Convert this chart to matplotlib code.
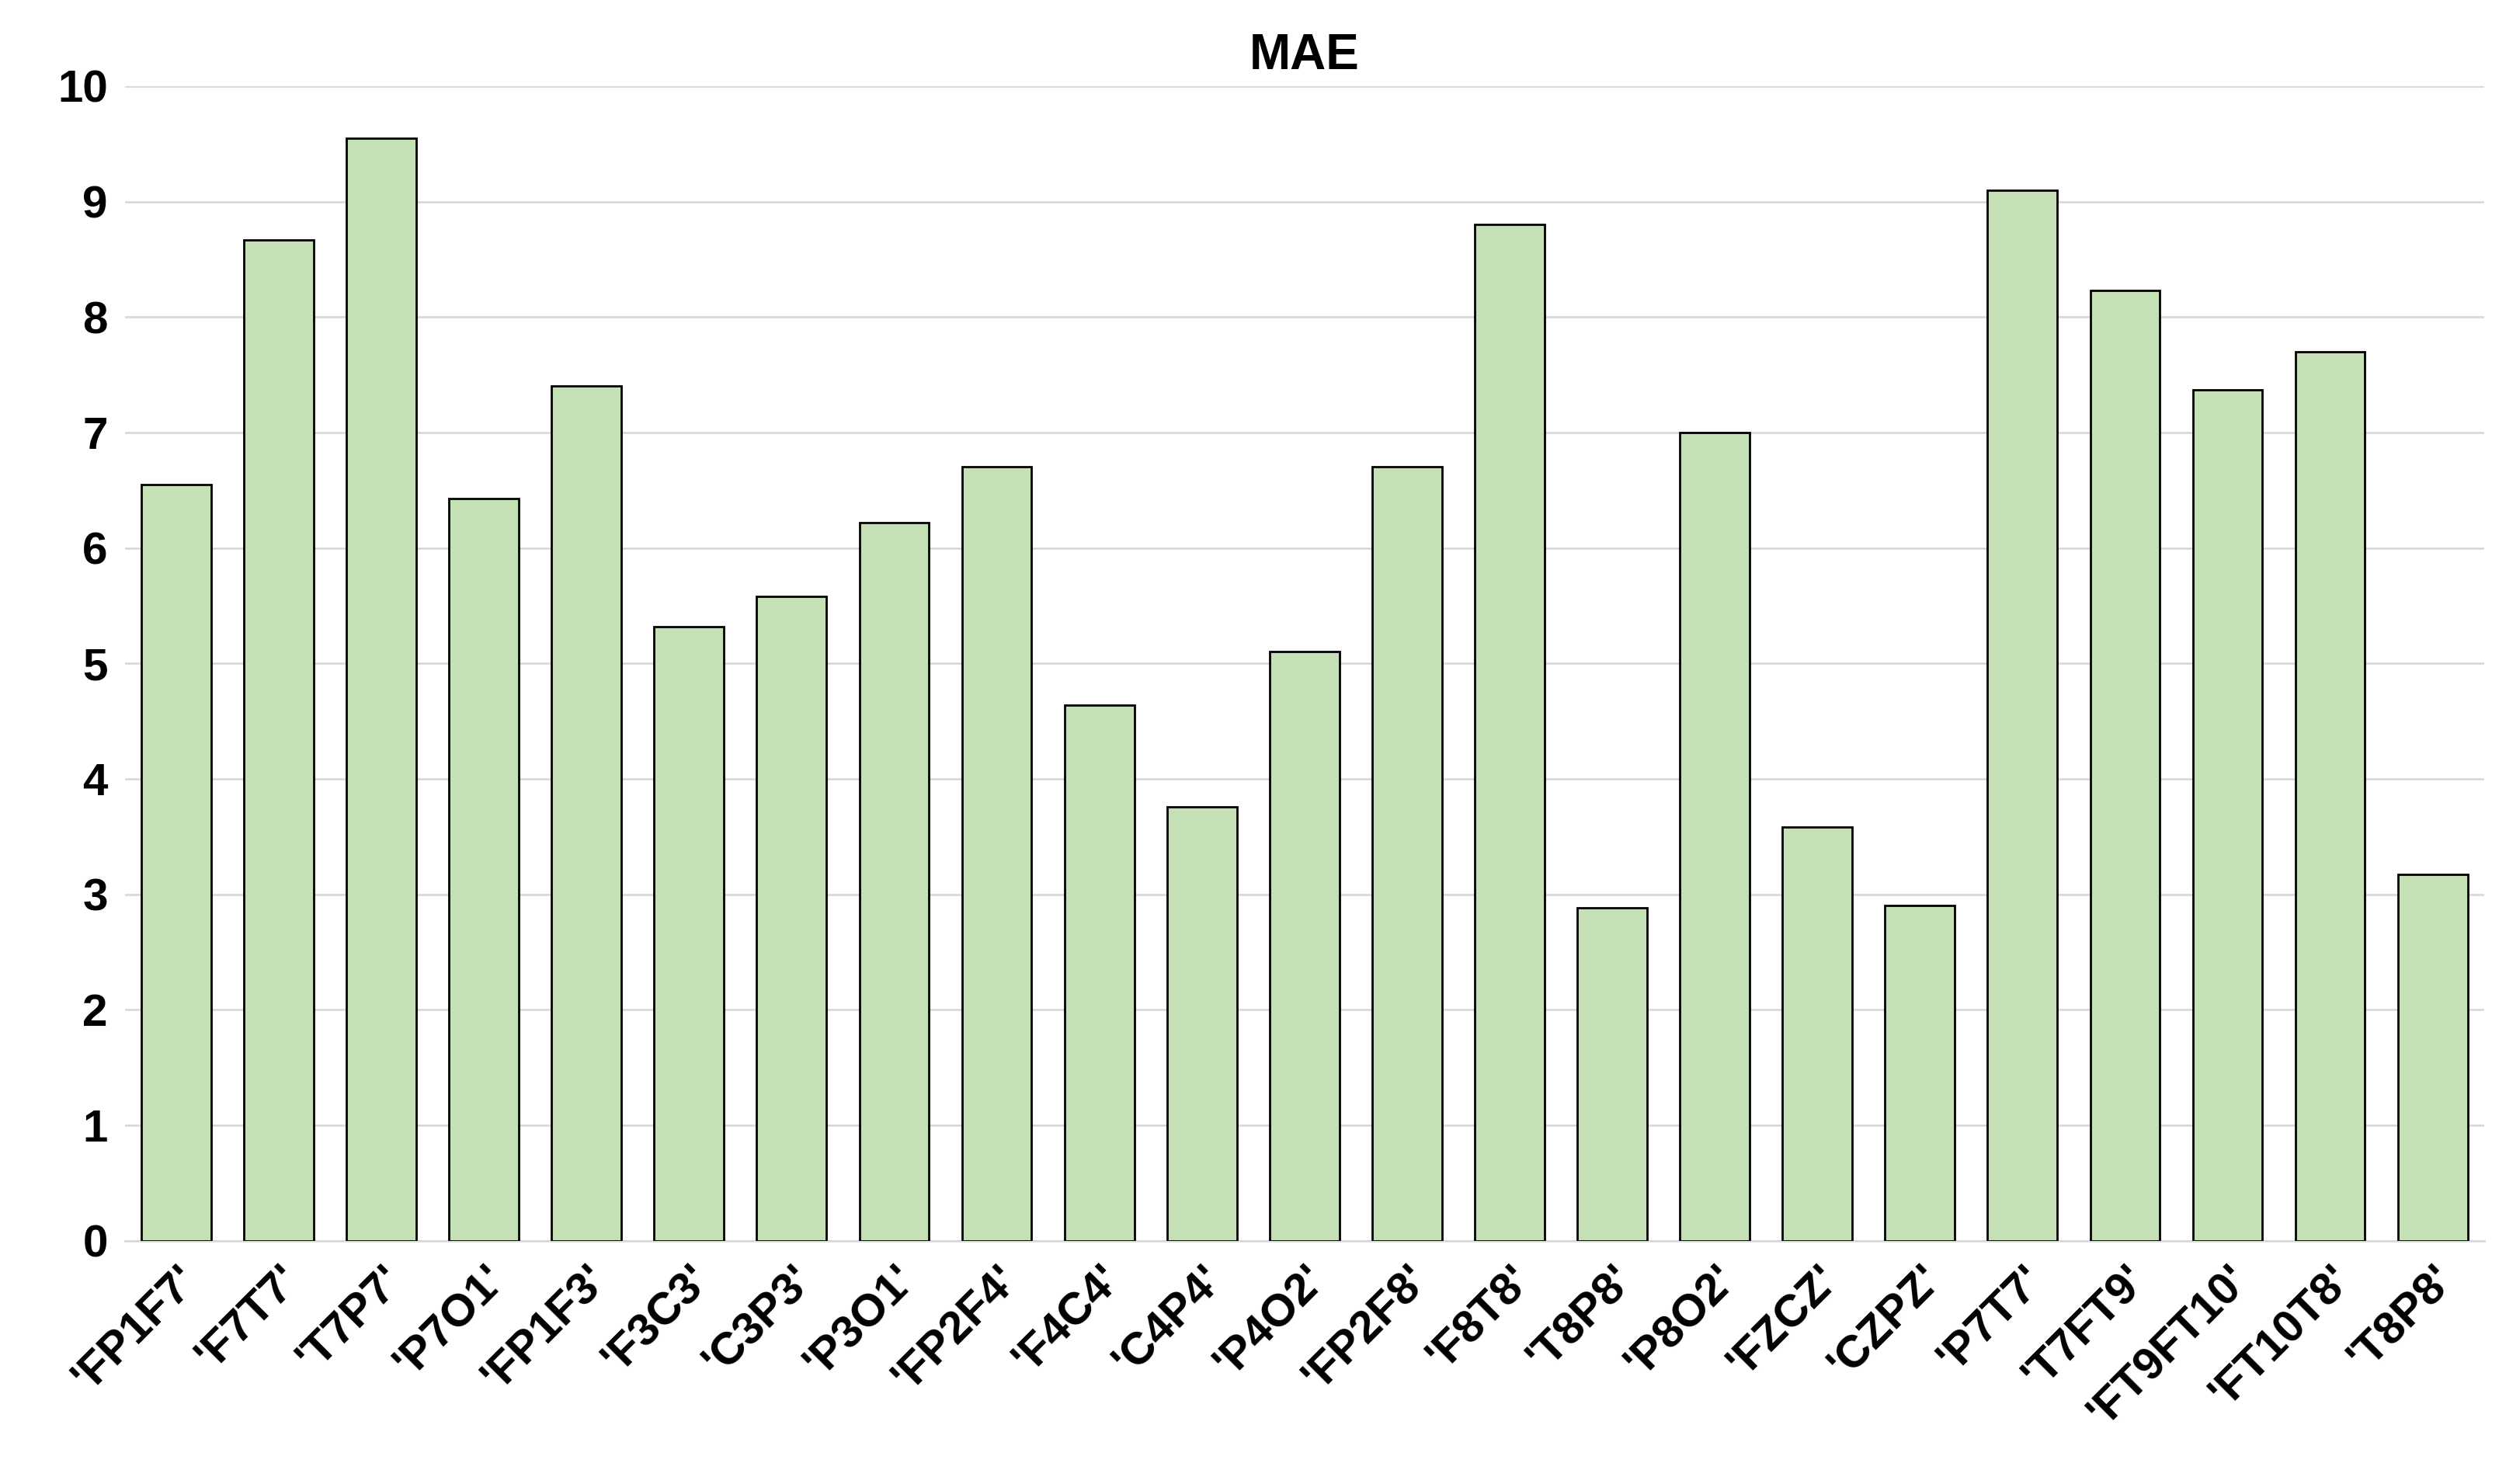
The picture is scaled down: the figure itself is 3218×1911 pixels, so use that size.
import matplotlib
matplotlib.use("Agg")
import matplotlib.pyplot as plt

# --- data ---
channels = ["FP1F7", "F7T7", "T7P7", "P7O1", "FP1F3", "F3C3", "C3P3", "P3O1",
            "FP2F4", "F4C4", "C4P4", "P4O2", "FP2F8", "F8T8", "T8P8", "P8O2",
            "FZCZ", "CZPZ", "P7T7", "T7FT9", "FT9FT10", "FT10T8", "T8P8"]
mae = [6.55, 8.67, 9.55, 6.43, 7.40, 5.32, 5.58, 6.22,
       6.70, 4.64, 3.76, 5.10, 6.70, 8.80, 2.88, 7.00,
       3.58, 2.90, 9.10, 8.23, 7.37, 7.70, 3.17]
yticks = list(range(0, 11))

plt.rcParams['font.family'] = ['Liberation Sans', 'DejaVu Sans']

fig = plt.figure(figsize=(32.18, 19.11), dpi=100)
ax = fig.add_axes([0.05, 0.164, 0.944, 0.778])

x = range(len(channels))
ax.bar(x, mae, width=0.68, color="#C5E0B4", edgecolor="black", linewidth=2, zorder=3)

ax.set_ylim(0, 10)
ax.set_xlim(-0.5, len(channels) - 0.5)
ax.set_yticks(yticks)
ax.set_yticklabels([str(t) for t in yticks], fontsize=42, fontweight="bold")
ax.set_xticks(list(x))
ax.set_xticklabels([f"'{c}'" for c in channels], rotation=45, ha="right",
                   rotation_mode="anchor", fontsize=42, fontweight="bold")
ax.tick_params(axis="both", length=0, pad=16)
ax.grid(axis="y", color="#D9D9D9", linewidth=2, zorder=0)
for s in ["top", "right", "left"]:
    ax.spines[s].set_visible(False)
ax.spines["bottom"].set_color("#D9D9D9")
ax.spines["bottom"].set_linewidth(2)

ax.set_title("MAE", fontsize=46, fontweight="bold", pad=16)

fig.savefig("out.png", dpi=100)
